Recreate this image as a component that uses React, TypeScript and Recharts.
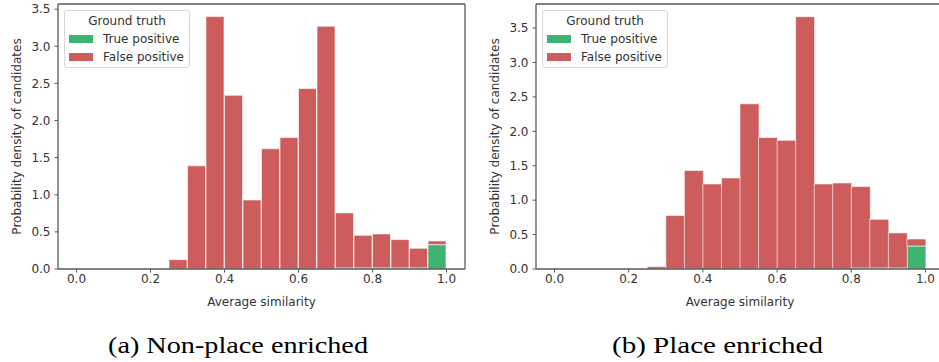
import React from "react";
import { BarChart, Bar, XAxis, YAxis, Legend, ReferenceLine } from "recharts";

// bin centres (bin width 0.05, 0.0 .. 1.0)
const binCenters = [
  0.025, 0.075, 0.125, 0.175, 0.225, 0.275, 0.325, 0.375, 0.425, 0.475,
  0.525, 0.575, 0.625, 0.675, 0.725, 0.775, 0.825, 0.875, 0.925, 0.975,
];

// (a) Non-place enriched
const nonPlaceTruePositive = [
  0, 0, 0, 0, 0, 0, 0, 0, 0, 0,
  0, 0, 0, 0, 0.015, 0.015, 0.015, 0.015, 0.015, 0.328,
];
const nonPlaceFalsePositive = [
  0, 0, 0, 0, 0, 0.126, 1.39, 3.4, 2.34, 0.93,
  1.62, 1.77, 2.43, 3.27, 0.741, 0.439, 0.457, 0.381, 0.264, 0.05,
];

// (b) Place enriched
const placeTruePositive = [
  0, 0, 0, 0, 0, 0, 0, 0, 0, 0,
  0, 0, 0, 0, 0, 0, 0.015, 0.015, 0.015, 0.334,
];
const placeFalsePositive = [
  0, 0, 0, 0, 0, 0.034, 0.776, 1.43, 1.236, 1.323,
  2.4, 1.91, 1.87, 3.665, 1.236, 1.25, 1.182, 0.707, 0.509, 0.102,
];

const xDomain: [number, number] = [-0.05, 1.05];
const xTicks = [0, 0.2, 0.4, 0.6, 0.8, 1.0];
const yTicks = [0, 0.5, 1.0, 1.5, 2.0, 2.5, 3.0, 3.5];
const seriesNames = ["True positive", "False positive"];
const legendTitle = "Ground truth";
const xLabel = "Average similarity";
const yLabel = "Probability density of candidates";
const captions = ["(a) Non-place enriched", "(b) Place enriched"];

const GREEN = "#3cb371";
const RED = "#cd5c5c";
const SPINE = "#5a5a5a";
const TICK_TEXT = "#333";
const FONT = "DejaVu Sans, sans-serif";
const FS = 12;

const buildData = (tp: number[], fp: number[]) =>
  binCenters.map((x, i) => ({ x, tp: tp[i], fp: fp[i] }));

const LegendBox = (props: any) => {
  const payload = [...(props.payload || [])].sort(
    (a: any, b: any) => seriesNames.indexOf(a.value) - seriesNames.indexOf(b.value)
  );
  return (
    <div
      style={{
        boxSizing: "border-box",
        width: 126,
        height: 58,
        border: "1px solid #d8d8d8",
        borderRadius: 3,
        background: "rgba(255,255,255,0.85)",
        fontFamily: FONT,
        fontSize: FS,
        color: "#333",
        paddingTop: 1,
      }}
    >
      <div style={{ height: 18, lineHeight: "18px", textAlign: "center" }}>{legendTitle}</div>
      {payload.map((p: any) => (
        <div key={p.value} style={{ height: 18, display: "flex", alignItems: "center" }}>
          <div style={{ width: 24, height: 8, background: p.color, marginLeft: 4, marginRight: 10, flex: "none" }} />
          <span style={{ lineHeight: "18px", whiteSpace: "nowrap" }}>{p.value}</span>
        </div>
      ))}
    </div>
  );
};

const makeYLabel = (dx: number) => (props: any) => {
  const vb = props.viewBox || {};
  const cx = vb.x + dx;
  const cy = vb.y + vb.height / 2;
  return (
    <text
      x={cx}
      y={cy}
      transform={`rotate(-90, ${cx}, ${cy})`}
      textAnchor="middle"
      dominantBaseline="central"
      fontFamily={FONT}
      fontSize={FS}
      fill={TICK_TEXT}
    >
      {yLabel}
    </text>
  );
};

type HistProps = {
  tp: number[];
  fp: number[];
  yMax: number;
  width: number;
  yAxisWidth: number;
  yLabelDx: number;
};

const Histogram = ({ tp, fp, yMax, width, yAxisWidth, yLabelDx }: HistProps) => {
  const data = buildData(tp, fp);
  return (
    <BarChart
      width={width}
      height={310}
      data={data}
      margin={{ top: 4, right: 5, bottom: 0, left: 0 }}
      barCategoryGap={0}
      barGap={0}
    >
      <XAxis
        xAxisId="b"
        dataKey="x"
        type="number"
        domain={xDomain}
        allowDataOverflow
        ticks={xTicks}
        tickFormatter={(v: number) => v.toFixed(1)}
        height={41}
        tickSize={3.5}
        tickMargin={2}
        stroke={SPINE}
        axisLine={{ stroke: SPINE, strokeWidth: 1.3 }}
        tickLine={{ stroke: SPINE }}
        tick={{ fill: TICK_TEXT, fontFamily: FONT, fontSize: FS }}
        label={{
          value: xLabel,
          position: "insideBottom",
          offset: 4,
          fill: TICK_TEXT,
          fontFamily: FONT,
          fontSize: FS,
        }}
      />
      <YAxis
        yAxisId="l"
        type="number"
        domain={[0, yMax]}
        allowDataOverflow
        ticks={yTicks}
        tickFormatter={(v: number) => v.toFixed(1)}
        width={yAxisWidth}
        tickSize={3.5}
        tickMargin={4}
        axisLine={{ stroke: SPINE, strokeWidth: 1.3 }}
        tickLine={{ stroke: SPINE }}
        tick={{ fill: TICK_TEXT, fontFamily: FONT, fontSize: FS }}
        label={{ content: makeYLabel(yLabelDx) } as any}
      />
      <Legend
        layout="vertical"
        align="center"
        verticalAlign="middle"
        wrapperStyle={{ left: yAxisWidth + 6, top: 10, width: 126, height: 58 }}
        content={<LegendBox />}
      />
      <Bar
        xAxisId="b"
        yAxisId="l"
        dataKey="tp"
        name={seriesNames[0]}
        stackId="s"
        fill={GREEN}
        stroke="#ffffff"
        strokeOpacity={0.6}
        strokeWidth={1}
        isAnimationActive={false}
      />
      <Bar
        xAxisId="b"
        yAxisId="l"
        dataKey="fp"
        name={seriesNames[1]}
        stackId="s"
        fill={RED}
        stroke="#ffffff"
        strokeOpacity={0.6}
        strokeWidth={1}
        isAnimationActive={false}
      />
      <ReferenceLine xAxisId="b" yAxisId="l" y={yMax} stroke={SPINE} strokeWidth={1.3} ifOverflow="extendDomain" />
      <ReferenceLine xAxisId="b" yAxisId="l" x={xDomain[1]} stroke={SPINE} strokeWidth={1.3} ifOverflow="extendDomain" />
    </BarChart>
  );
};

export default function App() {
  return (
    <div
      style={{
        position: "absolute",
        left: 0,
        top: 0,
        width: 939,
        height: 362,
        overflow: "hidden",
        background: "#fff",
      }}
    >
      <div style={{ position: "absolute", left: 0, top: 0 }}>
        <Histogram
          tp={nonPlaceTruePositive}
          fp={nonPlaceFalsePositive}
          yMax={3.57}
          width={470}
          yAxisWidth={58}
          yLabelDx={17}
        />
      </div>
      <div style={{ position: "absolute", left: 470, top: 0 }}>
        <Histogram
          tp={placeTruePositive}
          fp={placeFalsePositive}
          yMax={3.85}
          width={479}
          yAxisWidth={66}
          yLabelDx={25}
        />
      </div>
      <svg
        width={939}
        height={50}
        style={{ position: "absolute", left: 0, top: 312 }}
      >
        <text
          x={238}
          y={41}
          textAnchor="middle"
          fontFamily="Liberation Serif, serif"
          fontSize={24}
          textLength={260}
          lengthAdjust="spacingAndGlyphs"
          fill="#000"
        >
          {captions[0]}
        </text>
        <text
          x={717.5}
          y={41}
          textAnchor="middle"
          fontFamily="Liberation Serif, serif"
          fontSize={24}
          textLength={211}
          lengthAdjust="spacingAndGlyphs"
          fill="#000"
        >
          {captions[1]}
        </text>
      </svg>
    </div>
  );
}
